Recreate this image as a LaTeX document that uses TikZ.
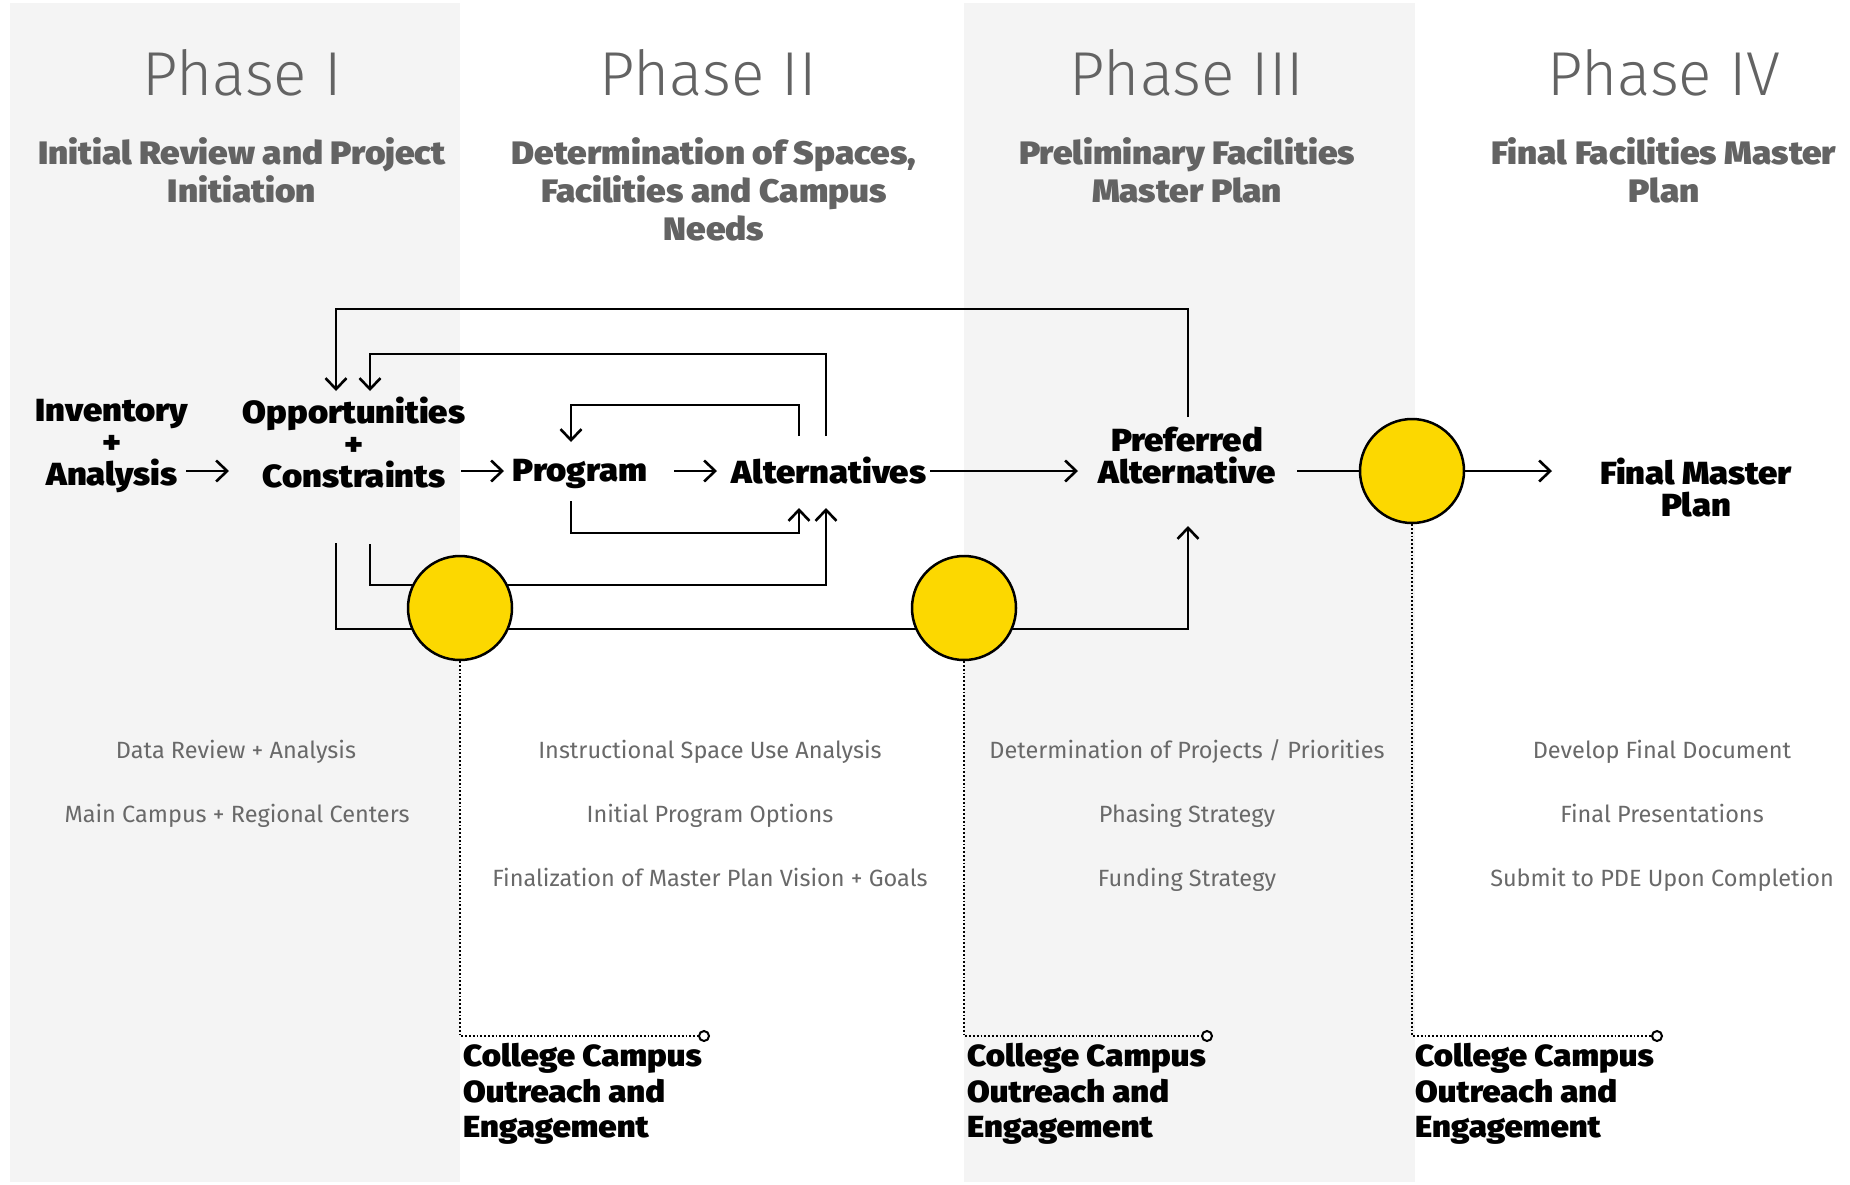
\documentclass[tikz,border=0pt]{standalone}
\usepackage{fontspec}
\setmainfont{Fira Sans}
\newfontfamily\lightf{Fira Sans Light}
\newfontfamily\heavyf{Fira Sans Black}[FakeStretch=1.08]
\usetikzlibrary{arrows.meta}
\definecolor{bandgray}{RGB}{244,244,244}
\definecolor{txtgray}{RGB}{99,99,99}
\definecolor{itemgray}{RGB}{105,105,105}
\definecolor{ringyellow}{RGB}{252,216,0}
\pgfdeclarelayer{bg}
\pgfdeclarelayer{lines}
\pgfsetlayers{bg,lines,main}
\tikzset{
  phasetitle/.style={inner sep=0pt, text=txtgray, font=\lightf\fontsize{62}{70}\selectfont},
  phasesub/.style={inner sep=0pt, text=txtgray, align=center, font=\heavyf\fontsize{32.5}{38}\selectfont},
  stagebox/.style={inner sep=0pt, text=black, align=center, font=\heavyf\fontsize{32}{32}\selectfont},
  itemtext/.style={inner sep=0pt, text=itemgray, anchor=base, font=\fontsize{23.5}{25}\selectfont},
  outreach/.style={inner sep=0pt, text=black, align=left, anchor=north west, font=\heavyf\fontsize{30.5}{35.5}\selectfont},
  ring/.style={circle, draw=black, line width=2.5pt, fill=ringyellow, minimum size=104pt, inner sep=0pt},
  endring/.style={circle, draw=black, line width=2pt, fill=white, minimum size=10pt, inner sep=0pt},
  flow/.style={line width=2.6pt, -{Straight Barb[length=11pt,width=21pt]}},
  link/.style={line width=2.6pt},
  dots/.style={line width=1.8pt, dotted}
}
\begin{document}
\begin{tikzpicture}[x=1pt,y=-1pt]
\useasboundingbox (0,0) rectangle (1850,1184);
\begin{pgfonlayer}{bg}
\fill[white] (0,0) rectangle (1850,1184);
\fill[bandgray] (10,3) rectangle (460,1182);
\fill[bandgray] (964,3) rectangle (1415,1182);
\end{pgfonlayer}

% phase titles
\node[phasetitle] (t1) at (242,73) {Phase I};
\node[phasetitle] (t2) at (708,73) {Phase II};
\node[phasetitle] (t3) at (1187,73) {Phase III};
\node[phasetitle] (t4) at (1664,73) {Phase IV};

\node[phasesub] (s1) at (242,170) {Initial Review and Project\\Initiation};
\node[phasesub] (s2) at (714,189) {Determination of Spaces,\\Facilities and Campus\\Needs};
\node[phasesub] (s3) at (1187,170) {Preliminary Facilities\\Master Plan};
\node[phasesub] (s4) at (1664,170) {Final Facilities Master\\Plan};

% stages
\node[stagebox] (inv) at (112,446) {Inventory\\+\\Analysis};
\node[stagebox] (opp) at (354,443) {Opportunities\\+\\Constraints};
\node[stagebox] (prog) at (580,474) {Program};
\node[stagebox] (alt) at (829,471) {Alternatives};
\node[stagebox] (pref) at (1187,456) {Preferred\\Alternative};
\node[stagebox] (final) at (1696,488) {Final Master\\Plan};

% rings
\node[ring] (ring1) at (460,608) {};
\node[ring] (ring2) at (964,608) {};
\node[ring] (ring4) at (1412,471) {};

% connector end points
\coordinate (invOut) at (186,471);
\coordinate (oppIn) at (229,471);
\coordinate (oppOut) at (461,471);
\coordinate (progIn) at (504,471);
\coordinate (progOut) at (674,471);
\coordinate (altIn) at (717,471);
\coordinate (altOut) at (930,471);
\coordinate (prefIn) at (1078,471);
\coordinate (prefOut) at (1297,471);
\coordinate (finalIn) at (1552,471);
\coordinate (prefTop) at (1188,417);
\coordinate (prefBot) at (1188,526);
\coordinate (oppTopA) at (336,391);
\coordinate (oppTopB) at (370,391);
\coordinate (oppBotA) at (336,543);
\coordinate (oppBotB) at (370,544);
\coordinate (altTopA) at (799,436);
\coordinate (altTopB) at (826,436);
\coordinate (altBotA) at (799,508);
\coordinate (altBotB) at (826,508);
\coordinate (progTop) at (571,442);
\coordinate (progBot) at (571,501);
\coordinate (end1) at (704,1036);
\coordinate (end2) at (1207,1036);
\coordinate (end4) at (1657,1036);

\begin{pgfonlayer}{lines}
\draw[flow] (invOut) -- (oppIn);
\draw[flow] (oppOut) -- (progIn);
\draw[flow] (progOut) -- (altIn);
\draw[flow] (altOut) -- (prefIn);
\draw[link] (prefOut) -- (ring4.center);
\draw[flow] (ring4.center) -- (finalIn);
\draw[flow] (prefTop) -- (1188,309) -| (oppTopA);
\draw[flow] (altTopB) -- (826,354) -| (oppTopB);
\draw[flow] (altTopA) -- (799,405) -| (progTop);
\draw[flow] (progBot) -- (571,533) -| (altBotA);
\draw[flow] (oppBotB) -- (370,585) -| (altBotB);
\draw[flow] (oppBotA) -- (336,629) -| (prefBot);
\draw[dots] (ring1.center) |- ([xshift=-5pt]end1);
\draw[dots] (ring2.center) |- ([xshift=-5pt]end2);
\draw[dots] (ring4.center) |- ([xshift=-5pt]end4);
\end{pgfonlayer}
\node[endring] (e1) at (end1) {};
\node[endring] (e2) at (end2) {};
\node[endring] (e4) at (end4) {};

% items
\node[itemtext] (a1) at (236,758) {Data Review + Analysis};
\node[itemtext] (a2) at (237,822) {Main Campus + Regional Centers};
\node[itemtext] (b1) at (710,758) {Instructional Space Use Analysis};
\node[itemtext] (b2) at (710,822) {Initial Program Options};
\node[itemtext] (b3) at (710,886) {Finalization of Master Plan Vision + Goals};
\node[itemtext] (c1) at (1187,758) {Determination of Projects / Priorities};
\node[itemtext] (c2) at (1187,822) {Phasing Strategy};
\node[itemtext] (c3) at (1187,886) {Funding Strategy};
\node[itemtext] (d1) at (1662,758) {Develop Final Document};
\node[itemtext] (d2) at (1662,822) {Final Presentations};
\node[itemtext] (d3) at (1662,886) {Submit to PDE Upon Completion};

% outreach labels
\node[outreach] (o1) at (463,1043) {College Campus\\Outreach and\\Engagement};
\node[outreach] (o2) at (967,1043) {College Campus\\Outreach and\\Engagement};
\node[outreach] (o4) at (1415,1043) {College Campus\\Outreach and\\Engagement};
\end{tikzpicture}
\end{document}
